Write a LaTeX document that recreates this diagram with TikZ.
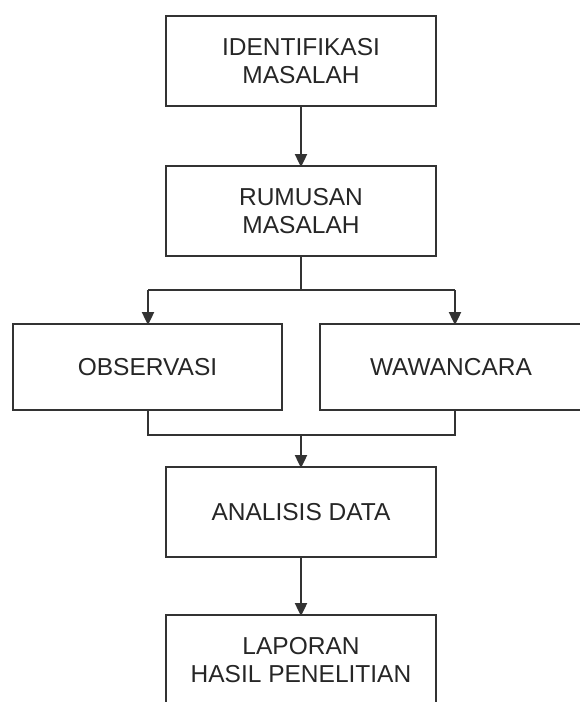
\documentclass[tikz,border=0pt]{standalone}
\usepackage{fontspec}
\setmainfont{Liberation Sans}
\usetikzlibrary{arrows.meta}
\definecolor{linec}{HTML}{333333}
\tikzset{
  boxnode/.style={draw=linec, line width=2.4pt, rectangle, outer sep=0pt, inner sep=0pt,
    minimum width=270pt, minimum height=90pt, align=center,
    font=\fontsize{24.5pt}{28pt}\selectfont, text=black!85},
  conn/.style={draw=linec, line width=2.4pt},
  arr/.style={conn, -{Triangle[length=13pt,width=12pt]}, shorten >=-1pt},
}
\begin{document}
\begin{tikzpicture}[x=1pt,y=-1pt]
\useasboundingbox (0,0) rectangle (579,702);
\node[boxnode] (b1) at (301,61) {IDENTIFIKASI\\MASALAH};
\node[boxnode] (b2) at (301,211) {RUMUSAN\\MASALAH};
\node[boxnode, minimum width=269pt, minimum height=86pt] (obs) at (147.5,367) {OBSERVASI};
\node[boxnode, minimum width=262pt, minimum height=86pt] (waw) at (451,367) {WAWANCARA};
\node[boxnode] (ana) at (301,512) {ANALISIS DATA};
\node[boxnode] (lap) at (301,660) {LAPORAN\\HASIL PENELITIAN};
\coordinate (split) at (301,290);
\coordinate (sl) at (148,290);
\coordinate (sr) at (455,290);
\coordinate (join) at (301,435);
\coordinate (jl) at (148,435);
\coordinate (jr) at (455,435);
\draw[arr] (b1.south) -- (b2.north);
\draw[conn] (b2.south) -- (split);
\draw[conn] (sl) -- (sr);
\draw[arr] (sl) -- (sl |- obs.north);
\draw[arr] (sr) -- (sr |- waw.north);
\draw[conn] (sl |- obs.south) -- (jl) -- (jr) -- (sr |- waw.south);
\draw[arr] (join) -- (ana.north);
\draw[arr] (ana.south) -- (lap.north);
\end{tikzpicture}
\end{document}
